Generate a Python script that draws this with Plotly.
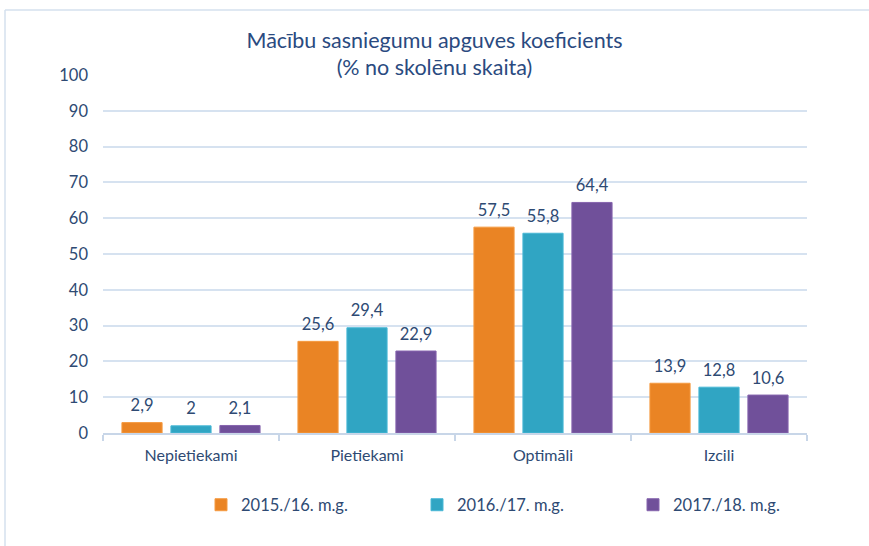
import plotly.graph_objects as go

categories = ["Nepietiekami", "Pietiekami", "Optimāli", "Izcili"]
series_names = ["2015./16. m.g.", "2016./17. m.g.", "2017./18. m.g."]
values_2015 = [2.9, 25.6, 57.5, 13.9]
values_2016 = [2, 29.4, 55.8, 12.8]
values_2017 = [2.1, 22.9, 64.4, 10.6]
y_ticks = [0, 10, 20, 30, 40, 50, 60, 70, 80, 90, 100]

colors = ["#EA8424", "#30A5C3", "#70509A"]
line_colors = ["#F59A40", "#48B8D6", "#8664AE"]
font_family = "Lato, Carlito, Calibri, sans-serif"
text_color = "#2E4A73"

def fmt(v):
    s = f"{v:g}"
    return s.replace(".", ",")

fig = go.Figure()
all_series = [values_2015, values_2016, values_2017]
for i, (name, vals) in enumerate(zip(series_names, all_series)):
    fig.add_trace(go.Bar(
        x=categories, y=vals, name=name, offsetgroup=str(i),
        marker=dict(color=colors[i], line=dict(color=line_colors[i], width=1)),
        hoverinfo="x+y",
    ))
for i, vals in enumerate(all_series):
    fig.add_trace(go.Scatter(
        x=categories, y=vals, mode="markers+text", offsetgroup=str(i),
        text=[fmt(v) for v in vals], textposition="top center",
        textfont=dict(size=16.5, color=text_color, family=font_family),
        marker=dict(size=10, color="rgba(0,0,0,0)"),
        showlegend=False, hoverinfo="skip", cliponaxis=False,
    ))

fig.update_layout(
    width=869, height=546, autosize=False,
    paper_bgcolor="white", plot_bgcolor="white",
    margin=dict(l=103, r=62, t=75, b=113),
    barmode="group", scattermode="group",
    bargap=0.165, bargroupgap=0.18,
    font=dict(family=font_family, color=text_color, size=16),
    title=dict(
        text="Mācību sasniegumu apguves koeficients<br>(% no skolēnu skaita)",
        x=0.5, xanchor="center", y=0.913, yanchor="middle",
        font=dict(size=21.5, color="#2A4A80", family=font_family),
    ),
    xaxis=dict(
        showgrid=False, showline=True, linecolor="#C8D6E8", linewidth=1.5,
        ticks="outside", tickson="boundaries", ticklen=6, tickcolor="#C8D6E8",
        tickwidth=1.5, tickfont=dict(size=16, color=text_color),
        ticklabelstandoff=7,
    ),
    yaxis=dict(
        range=[0, 100], tickvals=y_ticks, showgrid=True, gridcolor="#D6E2F0",
        gridwidth=1.5, zeroline=False, showline=False, ticks="",
        tickfont=dict(size=16.5, color=text_color), ticklabelstandoff=14,
    ),
    legend=dict(
        orientation="h", xref="container", yref="container",
        x=201 / 869, xanchor="left", y=1 - 505 / 546, yanchor="middle",
        entrywidth=171, entrywidthmode="pixels",
        font=dict(size=16.5, color=text_color, family=font_family),
        itemwidth=30,
    ),
    showlegend=True,
)

# chart frame (light border at top and left)
fig.add_shape(type="line", xref="paper", yref="paper",
              x0=(5 - 103) / 704, x1=(869 - 103) / 704,
              y0=(546 - 113 - 10) / 358, y1=(546 - 113 - 10) / 358,
              line=dict(color="#D5E0EE", width=1.5))
fig.add_shape(type="line", xref="paper", yref="paper",
              x0=(5 - 103) / 704, x1=(5 - 103) / 704,
              y0=(546 - 113 - 560) / 358, y1=(546 - 113 - 10) / 358,
              line=dict(color="#D5E0EE", width=1.5))

fig.write_html("out.html", config={"displayModeBar": False, "responsive": False},
               post_script="document.body.style.margin='0px';")
